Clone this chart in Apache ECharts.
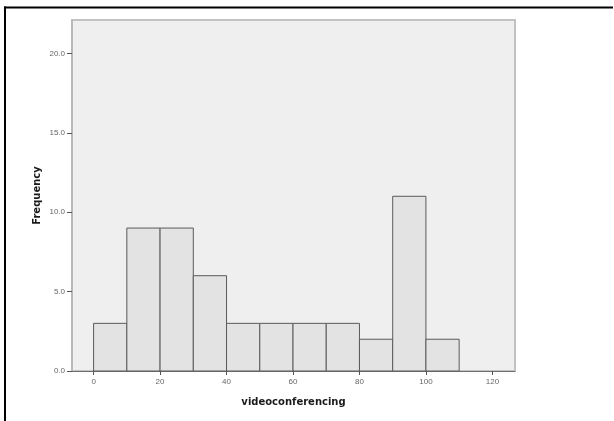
<!DOCTYPE html>
<html>
<head>
<meta charset="utf-8">
<style>
  html, body { margin: 0; padding: 0; background: #ffffff; }
  #chart { width: 614px; height: 421px; }
</style>
<script src="https://cdn.jsdelivr.net/npm/echarts@6/dist/echarts.min.js"></script>
</head>
<body>
<div id="chart"></div>
<script>
// Histogram bins (lower edge, upper edge) and counts
const binStarts = [0, 10, 20, 30, 40, 50, 60, 70, 80, 90, 100];
const binEnds   = [10, 20, 30, 40, 50, 60, 70, 80, 90, 100, 110];
const counts    = [3, 9, 9, 6, 3, 3, 3, 3, 2, 11, 2];

// Axis tick positions
const xTicks = [0, 20, 40, 60, 80, 100, 120];
const yTicks = [0, 5, 10, 15, 20];

const binData = binStarts.map((s, i) => [s, binEnds[i], counts[i]]);

const chart = echarts.init(document.getElementById('chart'), null, { renderer: 'canvas' });

const labelFont = { fontFamily: 'Liberation Sans, Arial, sans-serif', fontSize: 8, color: '#666666' };
const titleFont = { fontFamily: 'DejaVu Sans, sans-serif', fontSize: 10, fontWeight: 'bold', color: '#1a1a1a' };

chart.setOption({
  animation: false,
  backgroundColor: '#ffffff',
  grid: {
    left: 72, top: 20, right: 99, bottom: 50,
    show: true,
    backgroundColor: '#efefef',
    borderColor: '#c2c2c2',
    borderWidth: 2
  },
  xAxis: {
    type: 'value',
    min: -6.5,
    max: 126.8,
    name: 'videoconferencing',
    nameLocation: 'middle',
    nameGap: 26,
    nameMoveOverlap: false,
    nameTextStyle: titleFont,
    splitLine: { show: false },
    axisLine: { show: true, onZero: false, lineStyle: { color: '#707070', width: 1 } },
    axisTick: { show: true, length: 4, customValues: xTicks, lineStyle: { color: '#555555' } },
    axisLabel: Object.assign({ customValues: xTicks, margin: 7 }, labelFont)
  },
  yAxis: {
    type: 'value',
    min: 0,
    max: 22.1,
    name: 'Frequency',
    nameLocation: 'middle',
    nameGap: 30,
    nameMoveOverlap: false,
    nameRotate: 90,
    nameTextStyle: titleFont,
    splitLine: { show: false },
    axisLine: { show: true, onZero: false, lineStyle: { color: '#b8b8b8', width: 2 } },
    axisTick: { show: true, length: 5, customValues: yTicks, lineStyle: { color: '#555555' } },
    axisLabel: Object.assign({
      customValues: yTicks, margin: 7,
      formatter: v => v.toFixed(1)
    }, labelFont)
  },
  series: [{
    type: 'custom',
    data: binData,
    encode: { x: [0, 1], y: 2 },
    renderItem: function (params, api) {
      const p0 = api.coord([api.value(0), 0]);
      const p1 = api.coord([api.value(1), api.value(2)]);
      return {
        type: 'rect',
        shape: { x: p0[0], y: p1[1], width: p1[0] - p0[0], height: p0[1] - p1[1] },
        style: { fill: '#e3e3e3', stroke: '#5a5a5a', lineWidth: 1 }
      };
    }
  }],
  graphic: [
    { type: 'line', shape: { x1: 4, y1: 7.5, x2: 613, y2: 7.5 }, style: { stroke: '#000000', lineWidth: 2 } },
    { type: 'line', shape: { x1: 5, y1: 6.5, x2: 5, y2: 421 }, style: { stroke: '#000000', lineWidth: 2 } }
  ]
});
</script>
</body>
</html>
